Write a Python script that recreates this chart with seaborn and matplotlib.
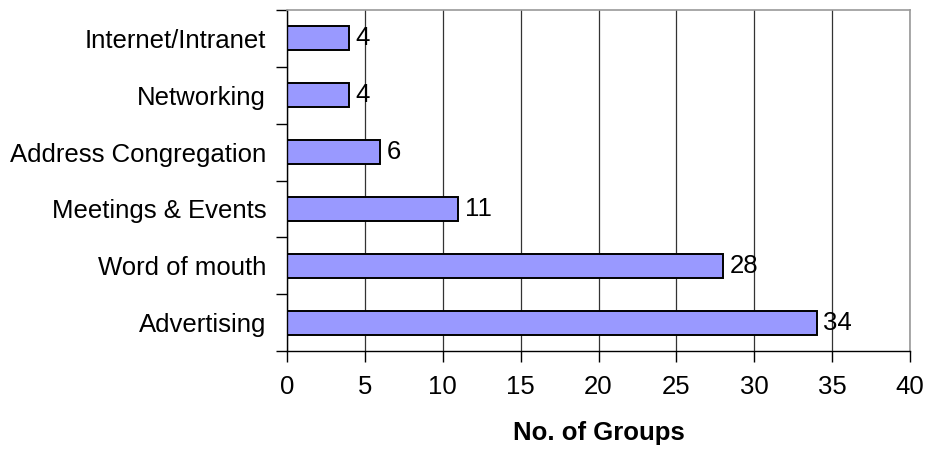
import matplotlib
matplotlib.use("Agg")
import matplotlib.pyplot as plt
import seaborn as sns
import pandas as pd

categories = ["Internet/Intranet", "Networking", "Address Congregation",
              "Meetings & Events", "Word of mouth", "Advertising"]
groups = [4, 4, 6, 11, 28, 34]
x_ticks = [0, 5, 10, 15, 20, 25, 30, 35, 40]

df = pd.DataFrame({"source": categories, "groups": groups})

sns.set_style("white")
plt.rcParams["font.family"] = ["Liberation Sans", "DejaVu Sans"]
plt.rcParams.update({"text.color": "black", "axes.labelcolor": "black",
                     "xtick.color": "black", "ytick.color": "black"})

fig = plt.figure(figsize=(9.28, 4.53), dpi=100)
ax = fig.add_axes([287 / 928, 1 - 351 / 453, (910 - 287) / 928, (351 - 10) / 453])

sns.barplot(data=df, x="groups", y="source", orient="h", color="#9999ff",
            saturation=1, edgecolor="black", linewidth=1.4, width=0.42, ax=ax)

ax.set_xlim(0, 40)
ax.set_ylim(len(categories) - 0.5, -0.5)
ax.set_xticks(x_ticks)
ax.set_xticklabels([str(t) for t in x_ticks], fontsize=18.5)
ax.xaxis.grid(True, color="#333333", linewidth=0.9)
ax.set_axisbelow(True)

# category ticks sit between bars, labels centred on bars
ax.set_yticks([i - 0.5 for i in range(len(categories) + 1)])
ax.set_yticklabels([])
ax.set_yticks(range(len(categories)), minor=True)
ax.set_yticklabels(categories, minor=True, fontsize=18.5)
ax.tick_params(axis="y", which="major", left=True, length=8, width=1,
               color="black", direction="out")
ax.tick_params(axis="y", which="minor", left=True, length=0, pad=15)
ax.tick_params(axis="x", bottom=True, length=8, width=1, color="black",
               direction="out", pad=9)

for side in ["top", "right"]:
    ax.spines[side].set_color("#999999")
    ax.spines[side].set_linewidth(1.2)
for side in ["left", "bottom"]:
    ax.spines[side].set_color("black")
    ax.spines[side].set_linewidth(1)

for i, v in enumerate(groups):
    ax.text(v + 0.4, i, str(v), va="center", ha="left", fontsize=18.5)

ax.set_ylabel("")
ax.set_xlabel("No. of Groups", fontsize=18.5, fontweight="bold", labelpad=16)

fig.savefig("out.png", dpi=100)
